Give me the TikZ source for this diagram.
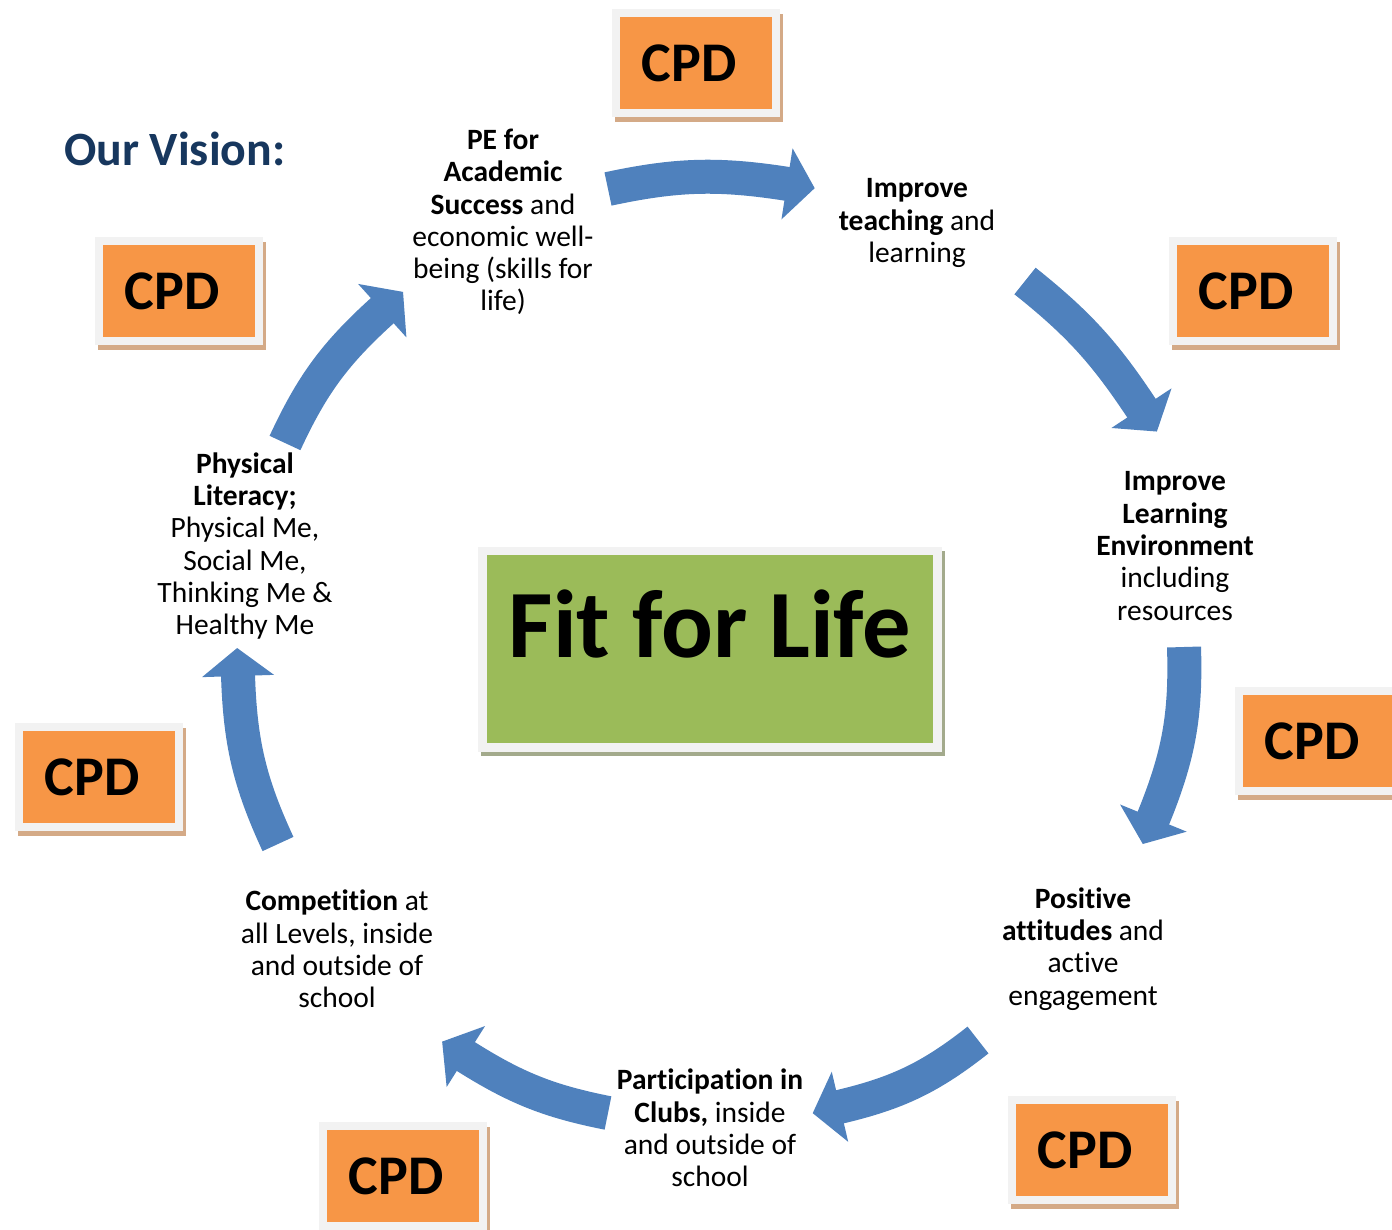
\documentclass[tikz,border=0pt]{standalone}
\usepackage{fontspec}
\setmainfont[Ligatures=NoCommon]{Carlito}
\definecolor{cpdorange}{RGB}{247,150,70}
\definecolor{framegray}{RGB}{242,242,242}
\definecolor{cpdshadow}{RGB}{212,170,135}
\definecolor{fitgreen}{RGB}{155,187,89}
\definecolor{fitshadow}{RGB}{163,170,140}
\definecolor{arrowblue}{RGB}{79,129,189}
\definecolor{visionblue}{RGB}{23,55,94}
\tikzset{
  cpd/.style={draw=framegray,fill=cpdorange,line width=7.5pt,minimum width=160pt,minimum height=100pt,inner sep=0pt,
    font=\fontsize{56}{60}\selectfont\bfseries,execute at end node={\hspace{14pt}},
    preaction={draw=cpdshadow,fill=cpdshadow,transform canvas={xshift=3pt,yshift=-5pt}}},
  fitbox/.style={draw=framegray,fill=fitgreen,line width=8.5pt,minimum width=455pt,inner sep=0pt,
    text height=106pt,text depth=90.5pt,font=\fontsize{96.5}{100}\selectfont\bfseries,
    preaction={draw=fitshadow,fill=fitshadow,transform canvas={xshift=3pt,yshift=-4pt}}},
  lbl/.style={align=center,inner sep=0pt,font=\fontsize{29.5}{32.3}\selectfont},
  shaft/.style={draw=arrowblue,line width=34pt},
  head/.style={fill=arrowblue}
}
\begin{document}
\begin{tikzpicture}[x=1pt,y=1pt]
		\useasboundingbox (0,0) rectangle (1392,-1230);
		\node [anchor=base west,text=visionblue,font=\fontsize{47.8}{50}\selectfont\bfseries,inner sep=0pt] (vision) at (64,-166) {Our Vision:};
		\node [fitbox,anchor=base] (fit) at (710,-657) {Fit for Life};
		\node [cpd] (c1) at (696,-63) {CPD};
		\node [cpd] (c2) at (179,-291) {CPD};
		\node [cpd] (c3) at (1253,-291) {CPD};
		\node [cpd] (c4) at (1319,-741) {CPD};
		\node [cpd] (c5) at (99,-777) {CPD};
		\node [cpd] (c6) at (403,-1176) {CPD};
		\node [cpd] (c7) at (1092,-1150) {CPD};
		\node [lbl] (pe) at (503,-222) {\textbf{PE for}\\\textbf{Academic}\\\textbf{Success} and\\economic well-\\being (skills for\\life)};
		\node [lbl] (teach) at (917,-223) {\textbf{Improve}\\\textbf{teaching} and\\learning};
		\node [lbl] (env) at (1175,-546) {\textbf{Improve}\\\textbf{Learning}\\\textbf{Environment}\\including\\resources};
		\node [lbl] (pos) at (1083,-949) {\textbf{Positive}\\\textbf{attitudes} and\\active\\engagement};
		\node [lbl] (clubs) at (710,-1128) {\textbf{Participation in}\\\textbf{Clubs,} inside\\and outside of\\school};
		\node [lbl] (comp) at (337,-949) {\textbf{Competition} at\\all Levels, inside\\and outside of\\school};
		\node [lbl] (phys) at (245,-546) {\textbf{Physical}\\\textbf{Literacy;}\\Physical Me,\\Social Me,\\Thinking Me \&\\Healthy Me};
		\coordinate (t1) at (608,-189); \coordinate (b1) at (788,-184);
		\coordinate (t2) at (1025,-281); \coordinate (b2) at (1142,-409);
		\coordinate (t3) at (1184,-647); \coordinate (b3) at (1153,-819);
		\coordinate (t4) at (978,-1040); \coordinate (b4) at (839,-1107);
		\coordinate (t5) at (608,-1113); \coordinate (b5) at (465,-1056);
		\coordinate (t6) at (278,-844); \coordinate (b6) at (238,-675);
		\coordinate (t7) at (285,-443); \coordinate (b7) at (383,-310);
		\draw [shaft] (t1) to[bend left=10.5] (b1);
		\draw [shaft] (t2) to[bend left=9] (b2);
		\draw [shaft] (t3) to[bend left=12] (b3);
		\draw [shaft] (t4) to[bend left=12.5] (b4);
		\draw [shaft] (t5) to[bend left=10.5] (b5);
		\draw [shaft] (t6) to[bend left=11.5] (b6);
		\draw [shaft] (t7) to[bend left=11.5] (b7);
		\fill [head,shift={(b1)},rotate=-8.9] (-1,36)--(27,0)--(-1,-36)--cycle;
		\fill [head,shift={(b2)},rotate=-56.6] (-1,36)--(27,0)--(-1,-36)--cycle;
		\fill [head,shift={(b3)},rotate=-112.2] (-1,36)--(27,0)--(-1,-36)--cycle;
		\fill [head,shift={(b4)},rotate=-166.8] (-1,36)--(27,0)--(-1,-36)--cycle;
		\fill [head,shift={(b5)},rotate=147.8] (-1,36)--(27,0)--(-1,-36)--cycle;
		\fill [head,shift={(b6)},rotate=91.8] (-1,36)--(27,0)--(-1,-36)--cycle;
		\fill [head,shift={(b7)},rotate=42.1] (-1,36)--(27,0)--(-1,-36)--cycle;
\end{tikzpicture}
\end{document}
